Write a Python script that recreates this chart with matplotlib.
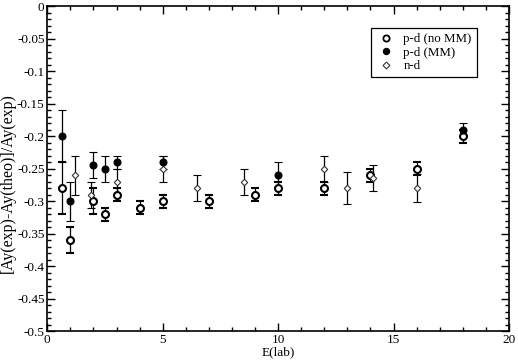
import matplotlib
matplotlib.use("Agg")
import matplotlib.pyplot as plt
from matplotlib.lines import Line2D
from matplotlib.ticker import MultipleLocator

plt.rcParams['font.family'] = ['Liberation Serif', 'DejaVu Serif']

# p-d without magnetic moments (open circles)
pd_nomm_e = [0.65, 1.0, 2.0, 2.5, 3.0, 4.0, 5.0, 7.0, 9.0, 10.0, 12.0, 14.0, 16.0, 18.0]
pd_nomm_y = [-0.28, -0.36, -0.30, -0.32, -0.29, -0.31, -0.30, -0.30, -0.29, -0.28, -0.28, -0.26, -0.25, -0.20]
pd_nomm_err = [0.04, 0.02, 0.02, 0.01, 0.01, 0.01, 0.01, 0.01, 0.01, 0.01, 0.01, 0.01, 0.01, 0.01]

# p-d with magnetic moments (filled circles)
pd_mm_e = [0.65, 1.0, 2.0, 2.5, 3.0, 5.0, 10.0, 18.0]
pd_mm_y = [-0.20, -0.30, -0.245, -0.25, -0.24, -0.24, -0.26, -0.19]
pd_mm_err = [0.04, 0.03, 0.02, 0.02, 0.01, 0.01, 0.02, 0.01]

# n-d (diamonds)
nd_e = [1.2, 1.9, 3.0, 5.0, 6.5, 8.5, 12.0, 13.0, 14.1, 16.0]
nd_y = [-0.26, -0.29, -0.27, -0.25, -0.28, -0.27, -0.25, -0.28, -0.265, -0.28]
nd_err = [0.03, 0.02, 0.02, 0.02, 0.02, 0.02, 0.02, 0.025, 0.02, 0.022]

labels = ['p-d (no MM)', 'p-d (MM)', 'n-d']

fig = plt.figure(figsize=(5.18, 3.6), dpi=100)
ax = fig.add_axes([0.0913, 0.08, 0.8913, 0.903])

eb = dict(ecolor='black', elinewidth=0.9, capsize=3.2, capthick=0.9, linestyle='none')
open_style = dict(marker='o', ms=5, mfc='white', mec='black', mew=1.5)
full_style = dict(marker='o', ms=5, mfc='black', mec='black', mew=0.8)
dia_style = dict(marker='D', ms=3.3, mfc='white', mec='#333333', mew=0.8)

ax.errorbar(pd_nomm_e, pd_nomm_y, yerr=pd_nomm_err, **open_style, **eb)
ax.errorbar(pd_mm_e, pd_mm_y, yerr=pd_mm_err, **full_style, **eb)
ax.errorbar(nd_e, nd_y, yerr=nd_err, **dia_style, **eb)

ax.set_xlim(0, 20)
ax.set_ylim(-0.5, 0)
ax.xaxis.set_major_locator(MultipleLocator(5))
ax.xaxis.set_minor_locator(MultipleLocator(1))
ax.yaxis.set_minor_locator(MultipleLocator(0.01))
ax.set_yticks([0, -0.05, -0.1, -0.15, -0.2, -0.25, -0.3, -0.35, -0.4, -0.45, -0.5])
ax.set_yticklabels(['0', '-0.05', '-0.1', '-0.15', '-0.2', '-0.25', '-0.3', '-0.35',
                    '-0.4', '-0.45', '-0.5'])
ax.tick_params(which='both', direction='in', top=True, right=True, labelsize=9.5, pad=2)
ax.tick_params(which='major', length=6, width=1)
ax.tick_params(which='minor', length=3, width=1)
for s in ax.spines.values():
    s.set_linewidth(1.2)

ax.set_xlabel('E(lab)', fontsize=9.5, labelpad=0)
ax.set_ylabel('[Ay(exp)-Ay(theo)]/Ay(exp)', fontsize=11.5, labelpad=1)
ax.yaxis.label.set_y(0.455)

handles = [Line2D([], [], linestyle='none', **dict(open_style, ms=4.5, mew=1.3)),
           Line2D([], [], linestyle='none', **dict(full_style, ms=4.5)),
           Line2D([], [], linestyle='none', **dict(dia_style, ms=3.5))]
leg = ax.legend(handles, labels, loc='upper left', bbox_to_anchor=(0.701, 0.932),
                borderaxespad=0, fontsize=9.3, fancybox=False, edgecolor='black',
                framealpha=1, borderpad=0.4, handletextpad=0.5, handlelength=1.6,
                labelspacing=0.1)
leg.get_frame().set_linewidth(0.9)

fig.savefig('out.png', dpi=100)
